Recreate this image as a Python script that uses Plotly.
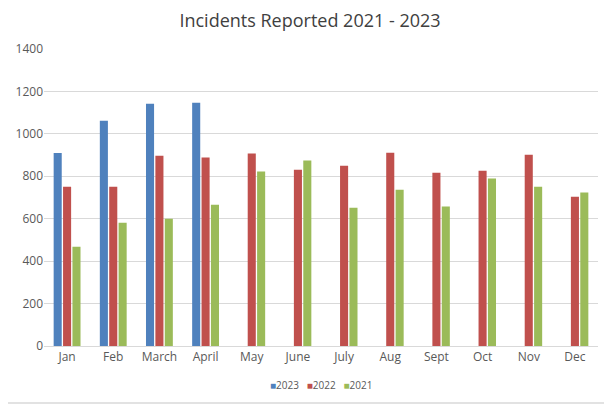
import plotly.graph_objects as go

# monthly incident counts
months = ["Jan", "Feb", "March", "April", "May", "June",
          "July", "Aug", "Sept", "Oct", "Nov", "Dec"]
incidents_2023 = [910, 1062, 1142, 1147, None, None, None, None, None, None, None, None]
incidents_2022 = [751, 751, 897, 888, 907, 831, 850, 911, 817, 826, 902, 704]
incidents_2021 = [468, 581, 600, 666, 822, 874, 652, 737, 657, 789, 751, 723]

series = [
    ("2023", incidents_2023, "#4F81BD"),
    ("2022", incidents_2022, "#C0504D"),
    ("2021", incidents_2021, "#9BBB59"),
]

fig = go.Figure()
for name, vals, color in series:
    fig.add_trace(go.Bar(x=months, y=vals, name=name, marker_color=color,
                         marker_line_width=0, showlegend=False))

# page body has an 8px default margin, so the figure is sized to fit the window
W, H = 604, 398
ml, mr, mt, mb = 36, 14, 41, 60
pw, ph = W - ml - mr, H - mt - mb

# compact excel-style legend: coloured squares + year, as one line of text
legend_txt = "   ".join(
    f"<span style='color:{c}'>■</span><span style='color:#595959'>{n}</span>"
    for n, _, c in series
)

fig.update_layout(
    width=W, height=H,
    margin=dict(l=ml, r=mr, t=mt, b=mb, autoexpand=False),
    paper_bgcolor="white",
    plot_bgcolor="white",
    barmode="group",
    bargap=0.39,
    bargroupgap=0.14,
    font=dict(family="Open Sans, Noto Sans, sans-serif", color="#595959", size=12),
    title=dict(text="Incidents Reported 2021 - 2023", x=0.5, xanchor="center",
               y=1 - 13 / H, yanchor="middle",
               font=dict(size=18, color="#404040")),
    showlegend=False,
)
fig.add_annotation(text=legend_txt, xref="paper", yref="paper",
                   x=0.5, xanchor="center", y=-(377 - (H - mb)) / ph, yanchor="middle",
                   showarrow=False, font=dict(size=10))

fig.update_yaxes(range=[0, 1400], dtick=200, showgrid=True, gridcolor="#D9D9D9",
                 gridwidth=1, zeroline=False, showline=False, ticks="",
                 automargin=False)
fig.update_xaxes(showline=True, linecolor="#D9D9D9", linewidth=1, ticks="",
                 showgrid=False, automargin=False)

# light grey chart frame: only right and bottom edges fall inside the window
fx1 = 1 + (mr - 3) / pw
fy0 = -(mb - 3) / ph
fig.add_shape(type="line", xref="paper", yref="paper",
              x0=fx1, x1=fx1, y0=fy0, y1=1 + mt / ph,
              line=dict(color="#D9D9D9", width=1.5))
fig.add_shape(type="line", xref="paper", yref="paper",
              x0=-ml / pw, x1=fx1, y0=fy0, y1=fy0,
              line=dict(color="#D9D9D9", width=1.5))

fig.write_html("out.html")
